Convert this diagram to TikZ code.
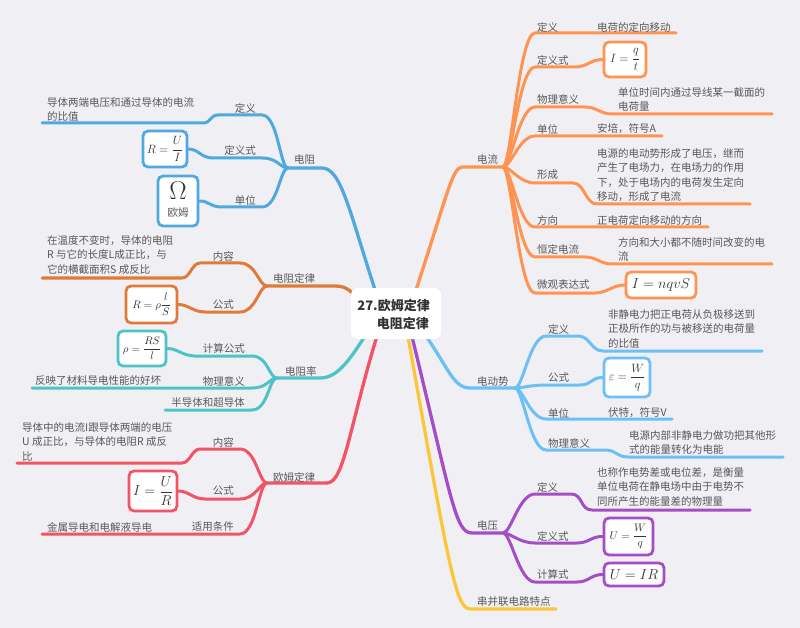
\documentclass[tikz,border=0pt]{standalone}
\usepackage{fontspec}
\usepackage{graphicx}
\setmainfont{Noto Sans CJK SC}
\definecolor{bgc}{HTML}{F0F0F4}
\definecolor{cB}{HTML}{4FA8E0}
\definecolor{cOb}{HTML}{E07A3A}
\definecolor{cT}{HTML}{4EC3C6}
\definecolor{cR}{HTML}{F25466}
\definecolor{cOa}{HTML}{FF9452}
\definecolor{cBb}{HTML}{6CC0F6}
\definecolor{cP}{HTML}{A54CC7}
\definecolor{cY}{HTML}{FAC73A}
\definecolor{lab}{HTML}{585858}
\definecolor{mathc}{HTML}{333333}
\definecolor{ctr}{HTML}{333333}
\pgfdeclarelayer{back}
\pgfdeclarelayer{lines}
\pgfsetlayers{back,lines,main}
\begin{document}
\begin{tikzpicture}[x=1pt,y=-1pt,
  br/.style={draw=#1, line width=3pt, line cap=round, line join=round},
  mb/.style={draw=#1, line width=3.3pt, line cap=round, line join=round},
  lbl/.style={font=\fontsize{10.5}{14.5}\selectfont, text=lab, inner sep=0pt},
  cnt/.style={lbl, align=left, anchor=north west},
  formbox/.style={draw=#1, fill=white, line width=2.8pt, rounded corners=5pt, inner sep=0pt, text=mathc},
]
\begin{pgfonlayer}{back}
\fill[bgc] (0,0) rectangle (800,628);
\end{pgfonlayer}
\useasboundingbox (0,0) rectangle (800,628);

% ---------- coordinates ----------
\coordinate (sR) at (380,305);
\coordinate (hR) at (288,168);
\coordinate (sO) at (362,305);
\coordinate (hO) at (267,286);
\coordinate (sT) at (372,325);
\coordinate (hT) at (277,378);
\coordinate (sE) at (382,320);
\coordinate (hE) at (267,483);
\coordinate (sI) at (411,305);
\coordinate (hI) at (503,167);
\coordinate (sM) at (418,325);
\coordinate (hM) at (515,388);
\coordinate (sU) at (408,320);
\coordinate (hU) at (503,533);
\coordinate (sY) at (405,320);

% ---------- formula boxes ----------
\node[formbox=cB, minimum width=44pt, minimum height=36pt] (bRUI) at (165,149) {\fontsize{11.5}{12}\selectfont$\displaystyle R=\frac{U}{I}$};
\node[formbox=cB, minimum width=40pt, minimum height=50pt] (bOm) at (178,201) {};
\node[text=mathc, inner sep=0pt] (om) at (178,190.5) {\scalebox{1.25}{\fontsize{20.74}{22}\selectfont$\Omega$}};
\node[lbl] (omt) at (178,213) {欧姆};
\node[formbox=cOb, minimum width=51pt, minimum height=37pt] (bRrho) at (151.5,304.5) {\fontsize{11}{12}\selectfont$\displaystyle R=\rho\frac{l}{S}$};
\node[formbox=cT, minimum width=48pt, minimum height=35pt] (brho) at (142,348.5) {\fontsize{10.5}{12}\selectfont$\displaystyle \rho=\frac{RS}{l}$};
\node[formbox=cR, minimum width=48pt, minimum height=40pt] (bIUR) at (153,491) {\fontsize{13.5}{14}\selectfont$\displaystyle I=\frac{U}{R}$};
\node[formbox=cOa, minimum width=42pt, minimum height=35pt] (bIqt) at (625,59.5) {\fontsize{11.5}{12}\selectfont$\displaystyle I=\frac{q}{t}$};
\node[formbox=cOa, minimum width=70pt, minimum height=26pt] (bInqvS) at (661,285) {\fontsize{14.4}{15}\selectfont$I=nqvS$};
\node[formbox=cBb, minimum width=46pt, minimum height=39pt] (beps) at (627,377.5) {\fontsize{11.5}{12}\selectfont$\displaystyle \varepsilon=\frac{W}{q}$};
\node[formbox=cP, minimum width=49pt, minimum height=37pt] (bUWq) at (628.5,536.5) {\fontsize{10.5}{12}\selectfont$\displaystyle U=\frac{W}{q}$};
\node[formbox=cP, minimum width=60pt, minimum height=23pt] (bUIR) at (634,574.5) {\fontsize{14}{15}\selectfont$U=IR$};

\begin{pgfonlayer}{lines}
% ===== 电阻 =====
\draw[mb=cB] (sR) .. controls (350,215) and (342,168) .. (322,168) -- (hR);
\draw[br=cB] (hR) .. controls +(-8,0) and +(16,0) .. (262,115) -- (218,115) .. controls +(-8,0) and +(8,0) .. (203,123) -- (42,123) coordinate (eR1);
\draw[br=cB] (hR) .. controls +(-8,0) and +(16,0) .. (262,158) -- (213,158) .. controls +(-12,0) and +(10,0) .. (bRUI.east);
\draw[br=cB] (hR) .. controls +(-8,0) and +(16,0) .. (262,207) -- (222,207) .. controls +(-12,0) and +(10,0) .. (bOm.east);
% ===== 电阻定律 =====
\draw[mb=cOb] (sO) .. controls (350,288) and (345,286) .. (333,286) -- (hO);
\draw[br=cOb] (hO) .. controls +(-8,0) and +(16,0) .. (240,263) -- (200,263) .. controls +(-8,0) and +(8,0) .. (182,278) -- (42,278) coordinate (eO1);
\draw[br=cOb] (hO) .. controls +(-8,0) and +(16,0) .. (240,312) -- (205,312) .. controls +(-12,0) and +(10,0) .. (bRrho.east);
% ===== 电阻率 =====
\draw[mb=cT] (sT) .. controls (350,360) and (338,378) .. (320,378) -- (hT);
\draw[br=cT] (hT) .. controls +(-8,0) and +(16,0) .. (252,356) -- (195,356) .. controls +(-12,0) and +(10,0) .. (brho.east);
\draw[br=cT] (hT) .. controls +(-8,0) and +(16,0) .. (252,388) -- (32,388) coordinate (eT2);
\draw[br=cT] (hT) .. controls +(-8,0) and +(16,0) .. (252,410) -- (165,410) coordinate (eT3);
% ===== 欧姆定律 =====
\draw[mb=cR] (sE) .. controls (350,420) and (345,483) .. (327,483) -- (hE);
\draw[br=cR] (hE) .. controls +(-8,0) and +(16,0) .. (240,449) -- (200,449) .. controls +(-8,0) and +(8,0) .. (182,463) -- (17,463) coordinate (eE1);
\draw[br=cR] (hE) .. controls +(-8,0) and +(16,0) .. (240,499) -- (205,499) .. controls +(-12,0) and +(10,0) .. (bIUR.east);
\draw[br=cR] (hE) .. controls +(-8,0) and +(16,0) .. (240,534) -- (42,534) coordinate (eE3);
% ===== 电流 =====
\draw[mb=cOa] (sI) .. controls (446,200) and (452,167) .. (462,167) -- (hI);
\draw[br=cOa] (hI) .. controls +(8,0) and +(-16,0) .. (535,33) -- (676,33) coordinate (eI1);
\draw[br=cOa] (hI) .. controls +(8,0) and +(-16,0) .. (535,67) -- (575,67) .. controls +(12,0) and +(-12,0) .. (bIqt.west);
\draw[br=cOa] (hI) .. controls +(8,0) and +(-16,0) .. (535,107) -- (585,107) .. controls +(12,0) and +(-12,0) .. (612,114) -- (772,114) coordinate (eI3);
\draw[br=cOa] (hI) .. controls +(8,0) and +(-16,0) .. (535,136) -- (662,136) coordinate (eI4);
\draw[br=cOa] (hI) .. controls +(8,0) and +(-16,0) .. (535,183) -- (573,183) .. controls +(12,0) and +(-12,0) .. (597,204) -- (750,204) coordinate (eI5);
\draw[br=cOa] (hI) .. controls +(8,0) and +(-16,0) .. (535,227) -- (708,227) coordinate (eI6);
\draw[br=cOa] (hI) .. controls +(8,0) and +(-16,0) .. (535,257) -- (585,257) .. controls +(12,0) and +(-12,0) .. (612,264) -- (772,264) coordinate (eI7);
\draw[br=cOa] (hI) .. controls +(8,0) and +(-16,0) .. (535,293) -- (595,293) .. controls +(12,0) and +(-12,0) .. (bInqvS.west);
% ===== 电动势 =====
\draw[mb=cBb] (sM) .. controls (448,365) and (452,388) .. (470,388) -- (hM);
\draw[br=cBb] (hM) .. controls +(8,0) and +(-16,0) .. (546,336) -- (578,336) .. controls +(12,0) and +(-12,0) .. (603,351) -- (762,351) coordinate (eM1);
\draw[br=cBb] (hM) .. controls +(8,0) and +(-16,0) .. (546,385) -- (580,385) .. controls +(12,0) and +(-12,0) .. (beps.west);
\draw[br=cBb] (hM) .. controls +(8,0) and +(-16,0) .. (546,419) -- (672,419) coordinate (eM3);
\draw[br=cBb] (hM) .. controls +(8,0) and +(-16,0) .. (546,450) -- (605,450) .. controls +(12,0) and +(-12,0) .. (628,457) -- (783,457) coordinate (eM4);
% ===== 电压 =====
\draw[mb=cP] (sU) .. controls (452,500) and (455,533) .. (472,533) -- (hU);
\draw[br=cP] (hU) .. controls +(8,0) and +(-16,0) .. (535,494) -- (571,494) .. controls +(12,0) and +(-12,0) .. (592,510) -- (750,510) coordinate (eU1);
\draw[br=cP] (hU) .. controls +(8,0) and +(-16,0) .. (535,543) -- (577,543) .. controls +(12,0) and +(-12,0) .. (bUWq.west);
\draw[br=cP] (hU) .. controls +(8,0) and +(-16,0) .. (535,582) -- (577,582) .. controls +(12,0) and +(-12,0) .. (bUIR.west);
% ===== 串并联 =====
\draw[mb=cY] (sY) .. controls (448,560) and (455,609) .. (470,609) -- (556,609) coordinate (eY);
\end{pgfonlayer}

% ---------- labels ----------
% 电阻
\node[lbl, anchor=west] (tR) at (294,160) {电阻};
\node[lbl, anchor=east] (tR1) at (256,108) {定义};
\node[cnt] (cR1) at (47,97) {导体两端电压和通过导体的电流\\的比值};
\node[lbl, anchor=east] (tR2) at (256,150) {定义式};
\node[lbl, anchor=east] (tR3) at (256,200) {单位};
% 电阻定律
\node[lbl, anchor=west] (tO) at (273,278) {电阻定律};
\node[lbl, anchor=east] (tO1) at (234,256) {内容};
\node[cnt] (cO1) at (47,235) {在温度不变时，导体的电阻\\R 与它的长度L成正比，与\\它的横截面积S 成反比};
\node[lbl, anchor=east] (tO2) at (234,305) {公式};
% 电阻率
\node[lbl, anchor=west] (tT) at (285,371) {电阻率};
\node[lbl, anchor=east] (tT1) at (245,348) {计算公式};
\node[lbl, anchor=east] (tT2) at (245,381) {物理意义};
\node[lbl, anchor=west] (cT2) at (35,381) {反映了材料导电性能的好坏};
\node[lbl, anchor=east] (tT3) at (245,403) {半导体和超导体};
% 欧姆定律
\node[lbl, anchor=west] (tE) at (273,477) {欧姆定律};
\node[lbl, anchor=east] (tE1) at (234,442) {内容};
\node[cnt] (cE1) at (22,422) {导体中的电流I跟导体两端的电压\\U 成正比，与导体的电阻R 成反\\比};
\node[lbl, anchor=east] (tE2) at (234,491) {公式};
\node[lbl, anchor=east] (tE3) at (234,527) {适用条件};
\node[lbl, anchor=west] (cE3) at (47,527) {金属导电和电解液导电};
% 电流
\node[lbl, anchor=west] (tI) at (477,159) {电流};
\node[lbl, anchor=west] (tI1) at (537,27) {定义};
\node[lbl, anchor=west] (cI1) at (597,27) {电荷的定向移动};
\node[lbl, anchor=west] (tI2) at (537,60) {定义式};
\node[lbl, anchor=west] (tI3) at (537,99) {物理意义};
\node[cnt] (cI3) at (618,87) {单位时间内通过导线某一截面的\\电荷量};
\node[lbl, anchor=west] (tI4) at (537,129) {单位};
\node[lbl, anchor=west] (cI4) at (597,129) {安培，符号A};
\node[lbl, anchor=west] (tI5) at (537,175) {形成};
\node[cnt] (cI5) at (597,148) {电源的电动势形成了电压，继而\\产生了电场力，在电场力的作用\\下，处于电场内的电荷发生定向\\移动，形成了电流};
\node[lbl, anchor=west] (tI6) at (537,220) {方向};
\node[lbl, anchor=west] (cI6) at (597,220) {正电荷定向移动的方向};
\node[lbl, anchor=west] (tI7) at (537,249) {恒定电流};
\node[cnt] (cI7) at (618,237) {方向和大小都不随时间改变的电\\流};
\node[lbl, anchor=west] (tI8) at (537,285) {微观表达式};
% 电动势
\node[lbl, anchor=west] (tM) at (477,382) {电动势};
\node[lbl, anchor=west] (tM1) at (548,329) {定义};
\node[cnt] (cM1) at (608,309) {非静电力把正电荷从负极移送到\\正极所作的功与被移送的电荷量\\的比值};
\node[lbl, anchor=west] (tM2) at (548,378) {公式};
\node[lbl, anchor=west] (tM3) at (548,413) {单位};
\node[lbl, anchor=west] (cM3) at (608,413) {伏特，符号V};
\node[lbl, anchor=west] (tM4) at (548,443) {物理意义};
\node[cnt] (cM4) at (629,430) {电源内部非静电力做功把其他形\\式的能量转化为电能};
% 电压
\node[lbl, anchor=west] (tU) at (477,526) {电压};
\node[lbl, anchor=west] (tU1) at (537,487) {定义};
\node[cnt] (cU1) at (597,467) {也称作电势差或电位差，是衡量\\单位电荷在静电场中由于电势不\\同所产生的能量差的物理量};
\node[lbl, anchor=west] (tU2) at (537,536) {定义式};
\node[lbl, anchor=west] (tU3) at (537,574) {计算式};
% 串并联
\node[lbl, anchor=west] (tY) at (477,602) {串并联电路特点};

% ---------- center ----------
\node[fill=white, rounded corners=7pt, minimum width=90pt, minimum height=51pt, inner sep=0pt] (root) at (396,313.5) {};
\node[anchor=east, font=\fontsize{13}{16}\selectfont\bfseries, text=ctr, inner sep=0pt] (rt1) at (430,306) {27.欧姆定律};
\node[anchor=east, font=\fontsize{13}{16}\selectfont\bfseries, text=ctr, inner sep=0pt] (rt2) at (429,323) {电阻定律};
\end{tikzpicture}
\end{document}
